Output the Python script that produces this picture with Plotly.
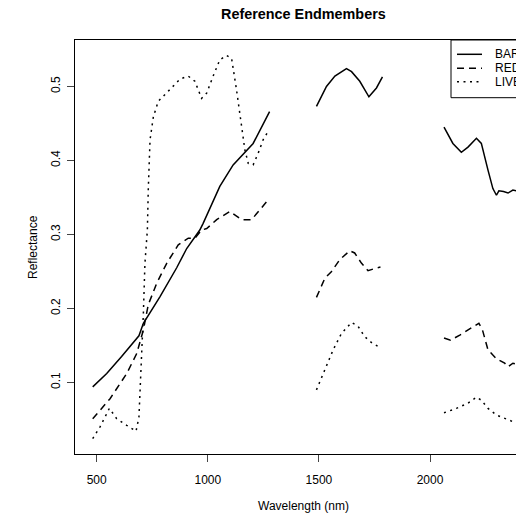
import plotly.graph_objects as go

# ---- data (wavelength in nm, reflectance) ; None marks the removed water-absorption bands
bare_wl = [482, 545, 612, 665, 690, 710, 785, 860, 905, 964, 979, 1054, 1114, 1204, 1278,
           None,
           1489, 1534, 1572, 1624, 1647, 1684, 1725, 1759, 1786,
           None,
           2063, 2103, 2141, 2171, 2209, 2231, 2261, 2283, 2299, 2310, 2331, 2351, 2373, 2400]
bare_r = [0.094, 0.112, 0.135, 0.153, 0.163, 0.180, 0.216, 0.255, 0.281, 0.306, 0.315, 0.365, 0.394, 0.423, 0.466,
          None,
          0.473, 0.500, 0.514, 0.524, 0.520, 0.507, 0.486, 0.498, 0.513,
          None,
          0.445, 0.423, 0.411, 0.418, 0.430, 0.423, 0.387, 0.362, 0.353, 0.359, 0.358, 0.356, 0.360, 0.358]

red_wl = [482, 560, 635, 680, 710, 732, 770, 815, 867, 912, 942, 972, 995, 1040, 1099, 1152, 1197, 1234, 1278,
          None,
          1489, 1527, 1557, 1594, 1639, 1661, 1692, 1721, 1751, 1777,
          None,
          2063, 2092, 2134, 2179, 2220, 2236, 2261, 2299, 2336, 2351, 2373, 2400]
red_r = [0.051, 0.078, 0.112, 0.139, 0.171, 0.205, 0.234, 0.261, 0.286, 0.295, 0.295, 0.306, 0.308, 0.320, 0.331, 0.320, 0.320, 0.333, 0.349,
         None,
         0.215, 0.241, 0.250, 0.266, 0.278, 0.275, 0.261, 0.251, 0.254, 0.256,
         None,
         0.160, 0.157, 0.164, 0.173, 0.180, 0.171, 0.144, 0.132, 0.126, 0.121, 0.126, 0.124]

live_wl = [482, 515, 557, 590, 635, 677, 690, 702, 710, 717, 728, 732, 740, 755, 777, 830, 875, 912, 942, 972,
           995, 1024, 1054, 1084, 1107, 1129, 1152, 1167, 1182, 1204, 1227, 1249, 1275,
           None,
           1489, 1527, 1564, 1601, 1647, 1676, 1706, 1736, 1781,
           None,
           2063, 2119, 2171, 2209, 2231, 2261, 2299, 2336, 2373, 2400]
live_r = [0.024, 0.040, 0.065, 0.051, 0.042, 0.034, 0.053, 0.126, 0.193, 0.261, 0.306, 0.360, 0.428, 0.459, 0.480, 0.496, 0.510, 0.514, 0.507, 0.484,
          0.491, 0.514, 0.536, 0.542, 0.538, 0.496, 0.450, 0.414, 0.396, 0.394, 0.410, 0.428, 0.441,
          None,
          0.090, 0.117, 0.144, 0.166, 0.181, 0.176, 0.162, 0.154, 0.146,
          None,
          0.059, 0.065, 0.072, 0.080, 0.076, 0.065, 0.056, 0.051, 0.047, 0.044]

series_names = ["BARE", "RED", "LIVE"]
x_ticks = [500, 1000, 1500, 2000]
y_ticks = [0.1, 0.2, 0.3, 0.4, 0.5]

FONT = "Liberation Sans, Arial, sans-serif"
W, H = 516, 515
ML, MT, MB, MR = 75, 40, 61, 0
PW, PH = W - ML - MR, H - MT - MB

def px(x):
    return (x - ML) / PW

def py(y):
    return (H - MB - y) / PH

dashes = ["solid", "7px,5px", "2px,4.5px"]
data = [(bare_wl, bare_r), (red_wl, red_r), (live_wl, live_r)]

fig = go.Figure()
for name, (wl, r), d in zip(series_names, data, dashes):
    fig.add_trace(go.Scatter(x=wl, y=r, mode="lines", name=name,
                             line=dict(color="black", width=1.5, dash=d),
                             connectgaps=False, showlegend=False))

# legend drawn as a boxed key (top-right, partly outside the visible window, as in the reference)
shapes = [dict(type="rect", xref="paper", yref="paper", x0=px(451), x1=px(531), y0=py(97.7), y1=py(40),
               line=dict(color="black", width=1), fillcolor="white", layer="above")]
annotations = []
for i, (name, d) in enumerate(zip(series_names, dashes)):
    yy = [54.3, 68.3, 81.7][i]
    shapes.append(dict(type="line", xref="paper", yref="paper", x0=px(457), x1=px(482), y0=py(yy), y1=py(yy),
                       line=dict(color="black", width=1.5, dash=d), layer="above"))
    annotations.append(dict(text=name, xref="paper", yref="paper", x=px(493), y=py(yy),
                            xanchor="left", yanchor="middle", showarrow=False,
                            font=dict(family=FONT, size=12, color="black")))

annotations += [
    dict(text="<b>Reference Endmembers</b>", xref="paper", yref="paper", x=px(303), y=py(14),
         xanchor="center", yanchor="middle", showarrow=False, font=dict(family=FONT, size=14.4, color="black")),
    dict(text="Wavelength (nm)", xref="paper", yref="paper", x=px(303.5), y=py(506),
         xanchor="center", yanchor="middle", showarrow=False, font=dict(family=FONT, size=12, color="black")),
    dict(text="Reflectance", xref="paper", yref="paper", x=px(33), y=py(247), textangle=-90,
         xanchor="center", yanchor="middle", showarrow=False, font=dict(family=FONT, size=12, color="black")),
]

fig.update_layout(
    width=W, height=H,
    margin=dict(l=ML, r=MR, t=MT, b=MB, pad=0),
    paper_bgcolor="white", plot_bgcolor="white",
    font=dict(family=FONT, size=12, color="black"),
    shapes=shapes, annotations=annotations,
    showlegend=False,
)
fig.update_xaxes(range=[402.3, 2387], tickvals=x_ticks, ticktext=[str(v) for v in x_ticks],
                 showgrid=False, zeroline=False, showline=True, linecolor="black", linewidth=1,
                 mirror=True, ticks="outside", ticklen=7, tickcolor="#444", tickwidth=1,
                 ticklabelstandoff=8, tickfont=dict(family=FONT, size=12, color="black"))
fig.update_yaxes(range=[0.0033, 0.5628], tickvals=y_ticks, ticktext=[str(v) for v in y_ticks],
                 showgrid=False, zeroline=False, showline=True, linecolor="black", linewidth=1,
                 mirror=False, ticks="outside", ticklen=7, tickcolor="#444", tickwidth=1,
                 tickangle=-90, ticklabelstandoff=2, tickfont=dict(family=FONT, size=12, color="black"))

fig.write_html("out.html")
